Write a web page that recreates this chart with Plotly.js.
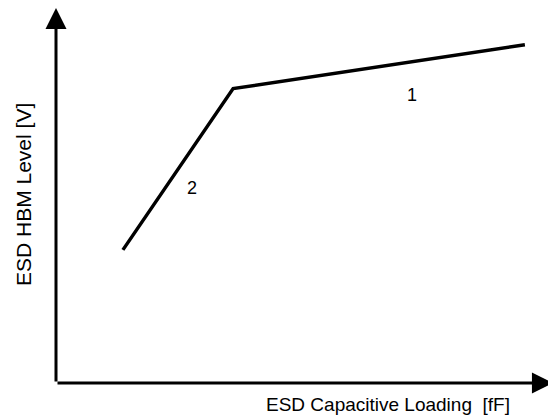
<!DOCTYPE html>
<html>
<head>
<meta charset="utf-8">
<script src="https://cdn.plot.ly/plotly-3.0.1.min.js"></script>
<style>html,body{margin:0;padding:0;background:#fff;}#chart{width:548px;height:415px;}</style>
</head>
<body>
<div id="chart"></div>
<script>
// Schematic curve: ESD HBM level vs capacitive loading (arbitrary units)
const loading = [1.36, 3.6, 9.53];
const hbmLevel = [3.55, 7.85, 9.02];
const segmentLabels = ["1", "2"];
const segmentLabelX = [7.23, 2.77];
const segmentLabelY = [7.68, 5.2];
const xTitle = "ESD Capacitive Loading  [fF]";
const yTitle = "ESD HBM Level [V]";

const FONT = "Arial, 'Liberation Sans', sans-serif";

const trace = {
  x: loading, y: hbmLevel, type: "scatter", mode: "lines",
  line: {color: "#000", width: 3.5}, hoverinfo: "skip"
};

const annotations = [];
segmentLabels.forEach((t, i) => annotations.push({
  x: segmentLabelX[i], y: segmentLabelY[i], xref: "x", yref: "y",
  xanchor: "center", yanchor: "middle",
  text: t, showarrow: false, font: {family: FONT, size: 18, color: "#000"}
}));
// axis arrows
annotations.push({x: 10.1, y: 0, xref: "x", yref: "y", ax: 0, ay: 0, axref: "x", ayref: "y",
  showarrow: true, arrowhead: 2, arrowwidth: 3, arrowsize: 1.4, arrowcolor: "#000", text: ""});
annotations.push({x: 0, y: 10, xref: "x", yref: "y", ax: 0, ay: 0, axref: "x", ayref: "y",
  showarrow: true, arrowhead: 2, arrowwidth: 3, arrowsize: 1.4, arrowcolor: "#000", text: ""});

const plotBottom = 415 - 32, pw = 548 - 56, ph = 415 - 8 - 32;
// axis titles (positions converted from pixels to paper coordinates)
annotations.push({xref: "paper", yref: "paper", x: (388 - 56) / pw, y: (plotBottom - 404) / ph,
  xanchor: "center", yanchor: "middle", text: xTitle, showarrow: false,
  font: {family: FONT, size: 19, color: "#000"}});
annotations.push({xref: "paper", yref: "paper", x: (23 - 56) / pw, y: (plotBottom - 195) / ph,
  xanchor: "center", yanchor: "middle", text: yTitle, showarrow: false, textangle: -90,
  font: {family: FONT, size: 21, color: "#000"}});

const layout = {
  width: 548, height: 415,
  margin: {l: 56, r: 0, t: 8, b: 32},
  paper_bgcolor: "#fff", plot_bgcolor: "#fff",
  showlegend: false,
  xaxis: {range: [0, 10], showgrid: false, zeroline: false, showline: false, showticklabels: false, ticks: ""},
  yaxis: {range: [0, 10], showgrid: false, zeroline: false, showline: false, showticklabels: false, ticks: ""},
  annotations: annotations
};

Plotly.newPlot("chart", [trace], layout, {staticPlot: true});
</script>
</body>
</html>
